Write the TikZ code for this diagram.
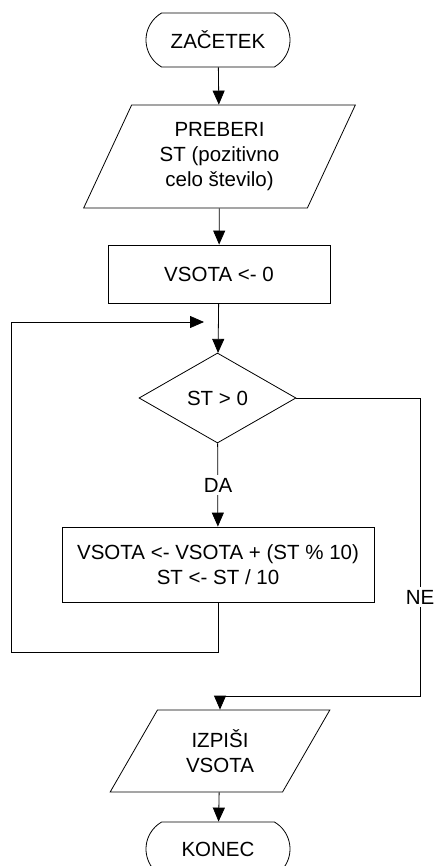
\documentclass[tikz,border=0pt]{standalone}
\usepackage{fontspec}
\setmainfont{Liberation Sans}
\usepackage{tikz}
\usetikzlibrary{arrows.meta, positioning, shapes.geometric, shapes.misc}

\begin{document}
\begin{tikzpicture}[x=1pt, y=-1pt, line width=0.8pt,
    every node/.style={font=\fontsize{20.5}{25}\selectfont, align=center},
    terminal/.style={draw, rounded rectangle, rounded rectangle arc length=120, minimum width=144pt, minimum height=54pt, inner sep=0pt},
    inout/.style={draw, trapezium, trapezium stretches=false, inner sep=2pt},
    process/.style={draw, rectangle, inner sep=0pt},
    decision/.style={draw, diamond, aspect=1.74, minimum width=157pt, minimum height=90pt, inner sep=0pt},
    flow/.style={-{Triangle[length=14pt, width=12pt]}},
    lbl/.style={fill=white, inner sep=3pt}]
    \useasboundingbox (0,0) rectangle (433,866);

    % Blocks
    \node[terminal] (start) at (218,40) {ZAČETEK};
    \node[inout, trapezium left angle=65, trapezium right angle=115,
          minimum width=237pt, minimum height=103pt] (read) at (219.5,156.5)
        {PREBERI\\ST (pozitivno\\celo število)};
    \node[process, minimum width=222pt, minimum height=58pt] (init) at (219,274) {VSOTA <- 0};
    \node[decision] (cond) at (217.5,398) {ST > 0};
    \node[process, minimum width=312pt, minimum height=75pt] (body) at (218,564.5)
        {VSOTA <- VSOTA + (ST \% 10)\\ST <- ST / 10};
    \node[inout, trapezium left angle=60, trapezium right angle=120,
          minimum width=220pt, minimum height=66pt] (write) at (220,751) {IZPIŠI\\VSOTA};
    \node[terminal] (stop) at (218,849) {KONEC};

    % Turning points
    \coordinate (backleft) at (11,652);
    \coordinate (backin) at (204,322);
    \coordinate (neright) at (420,696);

    % Connectors
    \draw[flow] (start) -- (read);
    \draw[flow] (read) -- (init);
    \draw[flow] (init) -- (cond);
    \draw[flow] (cond) -- (body);
    \draw[flow] (body.south) |- (backleft) |- (backin);
    \draw[flow] (cond.east) -| (neright) -| (write.north);
    \draw[flow] (write) -- (stop);

    % Branch labels
    \node[lbl] (yes) at (218,485) {DA};
    \node[lbl] (no) at (420,597) {NE};
\end{tikzpicture}
\end{document}
